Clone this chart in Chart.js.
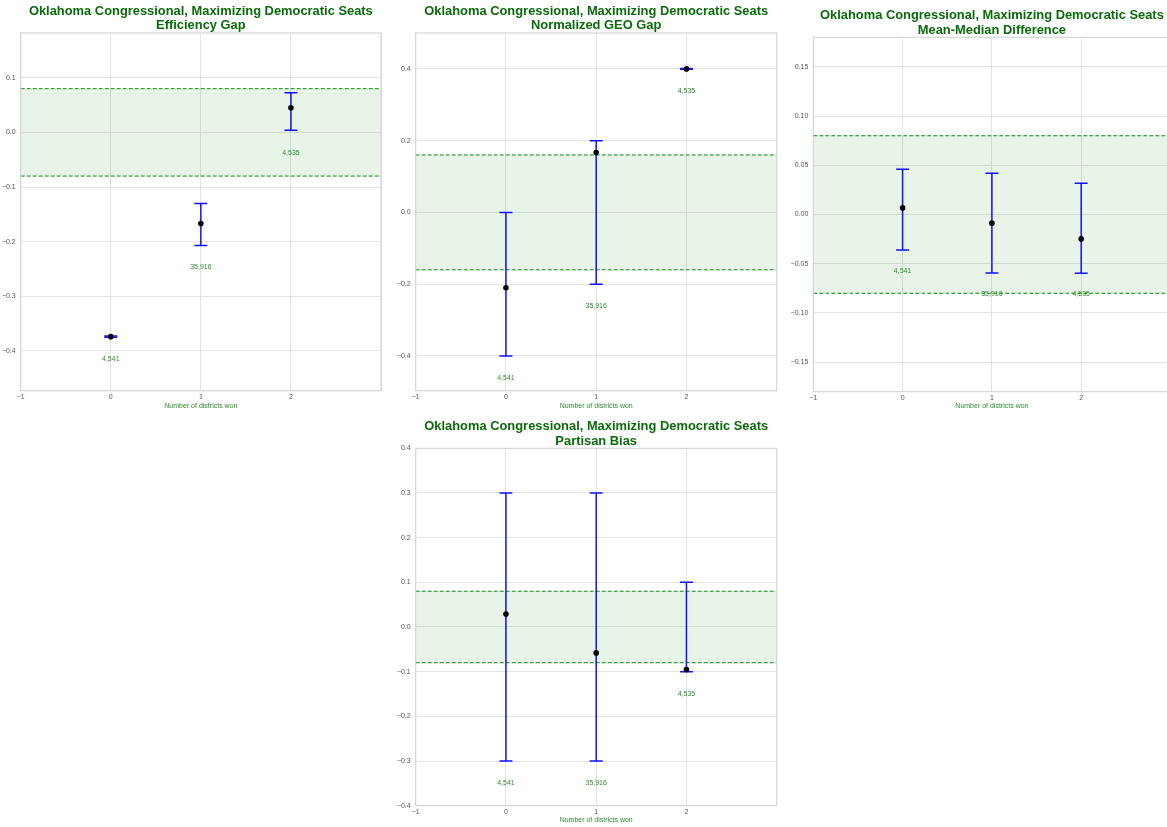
<!DOCTYPE html>
<html><head><meta charset="utf-8">
<script src="https://cdn.jsdelivr.net/npm/chart.js@4/dist/chart.umd.min.js"></script>
<style>
html,body{margin:0;padding:0;background:#fff;overflow:hidden;width:1167px;height:827px;position:relative;}
.panel{position:absolute;}
</style></head><body>
<div class="panel" style="left:0;top:0;width:389px;height:413px"><canvas id="c1"></canvas></div>
<div class="panel" style="left:389px;top:0;width:389px;height:413px"><canvas id="c2"></canvas></div>
<div class="panel" style="left:778px;top:0;width:393px;height:413px"><canvas id="c3"></canvas></div>
<div class="panel" style="left:389px;top:413px;width:389px;height:414px"><canvas id="c4"></canvas></div>
<script>
// ---- data ----
const districtsWon = [0, 1, 2];
const planCounts = ['4,541', '35,916', '4,535'];
const titlePrefix = 'Oklahoma Congressional, Maximizing Democratic Seats';
const xAxisLabel = 'Number of districts won';

const egMean  = [-0.374, -0.167, 0.045];
const egLow   = [-0.375, -0.207, 0.004];
const egHigh  = [-0.373, -0.130, 0.0725];
const egLabelY = [-0.415, -0.247, -0.037];
const egBand = 0.08;

const geoMean  = [-0.21, 0.167, 0.400];
const geoLow   = [-0.40, -0.20, 0.399];
const geoHigh  = [0.00, 0.20, 0.401];
const geoLabelY = [-0.462, -0.262, 0.337];
const geoBand = 0.16;

const mmMean  = [0.0067, -0.0088, -0.0248];
const mmLow   = [-0.036, -0.0593, -0.0597];
const mmHigh  = [0.046, 0.042, 0.0318];
const mmLabelY = [-0.0576, -0.081, -0.081];
const mmBand = 0.08;

const pbMean  = [0.029, -0.058, -0.095];
const pbLow   = [-0.30, -0.30, -0.10];
const pbHigh  = [0.30, 0.30, 0.10];
const pbLabelY = [-0.349, -0.349, -0.151];
const pbBand = 0.08;

// ---- plugins ----
const framePlugin = {
  id: 'frame',
  afterDraw(chart) {
    const a = chart.chartArea, ctx = chart.ctx;
    ctx.save();
    ctx.strokeStyle = '#d6d6d6';
    ctx.lineWidth = 1.2;
    ctx.strokeRect(a.left, a.top, a.right - a.left, a.bottom - a.top);
    ctx.restore();
  }
};
const textLabelPlugin = {
  id: 'textLabels',
  afterDatasetsDraw(chart) {
    const ctx = chart.ctx;
    chart.data.datasets.forEach((ds, i) => {
      if (!ds.textLabels) return;
      const meta = chart.getDatasetMeta(i);
      ctx.save();
      ctx.font = '7px "Liberation Sans", Arial, sans-serif';
      ctx.fillStyle = '#2e8b2e';
      ctx.textAlign = 'center';
      ctx.textBaseline = 'middle';
      meta.data.forEach((pt, j) => ctx.fillText(ds.textLabels[j], pt.x, pt.y));
      ctx.restore();
    });
  }
};

function fmt(v, d) {
  const s = Math.abs(v).toFixed(d);
  return (v < -1e-9 ? '\u2212' : '') + s;
}

function makeChart(id, metric, mean, low, high, labelY, band, L) {
  const datasets = [];
  datasets.push({
    data: districtsWon.map((x, i) => ({x, y: mean[i]})),
    showLine: false, pointRadius: 2.8, pointBackgroundColor: '#000', pointBorderWidth: 0,
    order: 0
  });
  districtsWon.forEach((x, i) => {
    datasets.push({
      data: [{x, y: low[i]}, {x, y: high[i]}],
      showLine: true, borderColor: '#1010ff', borderWidth: 1.5,
      pointStyle: 'line', pointRadius: 6.5, pointBorderColor: '#1010ff', pointBorderWidth: 1.5,
      order: 1
    });
  });
  datasets.push({
    data: [{x: -1, y: band}, {x: 3, y: band}],
    borderColor: '#118811', borderWidth: 1, borderDash: [4, 2], pointRadius: 0, fill: false, order: 2
  });
  datasets.push({
    data: [{x: -1, y: -band}, {x: 3, y: -band}],
    borderColor: '#118811', borderWidth: 1, borderDash: [4, 2], pointRadius: 0,
    fill: '-1', backgroundColor: 'rgba(0,128,0,0.09)', order: 2
  });
  datasets.push({
    data: districtsWon.map((x, i) => ({x, y: labelY[i]})),
    textLabels: planCounts, showLine: false, pointRadius: 0, order: 3
  });

  new Chart(document.getElementById(id), {
    type: 'line',
    data: {datasets},
    plugins: [framePlugin, textLabelPlugin],
    options: {
      responsive: true, maintainAspectRatio: false, animation: false,
      layout: {autoPadding: false, padding: {left: 0, right: L.padRight, top: 0, bottom: 0}},
      plugins: {
        legend: {display: false}, tooltip: {enabled: false},
        title: {
          display: true, fullSize: false,
          text: [titlePrefix, metric],
          color: '#0a6b0a',
          font: {family: '"Liberation Sans", Arial, sans-serif', size: 12.9, weight: 'bold', lineHeight: 1.124},
          padding: {top: L.titleTop, bottom: 0}
        }
      },
      scales: {
        x: {
          type: 'linear', min: -1, max: 3,
          grid: {color: '#e3e3e3', lineWidth: 1, drawTicks: false},
          border: {display: false},
          ticks: {
            stepSize: 1, padding: 2, color: '#555',
            font: {family: '"Liberation Sans", Arial, sans-serif', size: 7},
            callback: v => (v >= 3 ? '' : fmt(v, 0))
          },
          title: {
            display: true, text: xAxisLabel, color: '#2e8b2e',
            font: {family: '"Liberation Sans", Arial, sans-serif', size: 7},
            padding: {top: 0, bottom: L.xTitleBottom}
          },
          afterFit: s => { s.height = L.xHeight; s.paddingLeft = 0; s.paddingRight = 0; }
        },
        y: {
          min: L.yMin, max: L.yMax,
          grid: {color: '#e3e3e3', lineWidth: 1, drawTicks: false},
          border: {display: false},
          ticks: {
            stepSize: L.step, includeBounds: false, padding: 5, color: '#555',
            font: {family: '"Liberation Sans", Arial, sans-serif', size: 7},
            callback: v => fmt(v, L.dec)
          },
          afterFit: s => { s.width = L.yWidth; s.paddingTop = 0; s.paddingBottom = 0; }
        }
      }
    }
  });
}

makeChart('c1', 'Efficiency Gap', egMean, egLow, egHigh, egLabelY, egBand,
  {yWidth: 20.7, padRight: 8, titleTop: 4, xHeight: 22.3, xTitleBottom: 2.8, yMin: -0.473, yMax: 0.182, step: 0.1, dec: 1});
makeChart('c2', 'Normalized GEO Gap', geoMean, geoLow, geoHigh, geoLabelY, geoBand,
  {yWidth: 26.7, padRight: 1.3, titleTop: 4, xHeight: 22.3, xTitleBottom: 2.8, yMin: -0.497, yMax: 0.5, step: 0.2, dec: 1});
makeChart('c3', 'Mean-Median Difference', mmMean, mmLow, mmHigh, mmLabelY, mmBand,
  {yWidth: 35.3, padRight: 0.5, titleTop: 8.3, xHeight: 21.3, xTitleBottom: 2.8, yMin: -0.18, yMax: 0.18, step: 0.05, dec: 2});
makeChart('c4', 'Partisan Bias', pbMean, pbLow, pbHigh, pbLabelY, pbBand,
  {yWidth: 26.7, padRight: 1.3, titleTop: 6.3, xHeight: 21.3, xTitleBottom: 2.8, yMin: -0.4, yMax: 0.4, step: 0.1, dec: 1});
</script>
</body></html>
